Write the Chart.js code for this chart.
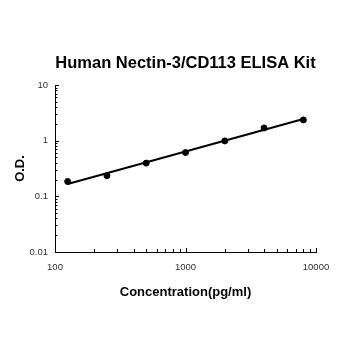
<!DOCTYPE html>
<html>
<head>
<meta charset="utf-8">
<script src="https://cdn.jsdelivr.net/npm/chart.js@4/dist/chart.umd.min.js"></script>
<style>
  html, body { margin: 0; padding: 0; background: #fff; }
  #wrap { width: 350px; height: 350px; }
</style>
</head>
<body>
<div id="wrap"><canvas id="c"></canvas></div>
<script>
// standard curve: concentration (pg/ml) vs O.D., log-log
const concentration = [125, 250, 500, 1000, 2000, 4000, 8000];
const od = [0.185, 0.234, 0.395, 0.612, 0.99, 1.69, 2.36];

// fitted line endpoints
const fitX = [125, 8000];
const fitY = [0.166, 2.45];

const xMajor = [100, 1000, 10000];
const yMajor = [0.01, 0.1, 1, 10];

const TITLE = 'Human Nectin-3/CD113 ELISA Kit';
const FONT = '"Liberation Sans", Arial, sans-serif';

// 1..9 x 10^n between the first and last major tick
function logTicks(majors) {
  const out = [];
  for (let i = 0; i < majors.length - 1; i++) {
    for (let k = 1; k < 10; k++) out.push(+(majors[i] * k).toPrecision(6));
  }
  out.push(majors[majors.length - 1]);
  return out;
}

const isMajor = (v, majors) => majors.some(m => Math.abs(m - v) < m * 1e-6);

// inward tick marks + title centred over the plot area
const decorations = {
  id: 'decorations',
  afterDraw(chart) {
    const { ctx, chartArea: a, scales: { x, y } } = chart;
    ctx.save();
    ctx.strokeStyle = '#000';
    ctx.lineWidth = 1;
    ctx.beginPath();
    logTicks(xMajor).forEach(v => {
      const px = Math.round(x.getPixelForValue(v)) + 0.5;
      const len = isMajor(v, xMajor) ? 4 : 3;
      ctx.moveTo(px, a.bottom);
      ctx.lineTo(px, a.bottom - len);
    });
    logTicks(yMajor).forEach(v => {
      const py = Math.round(y.getPixelForValue(v)) + 0.5;
      const len = isMajor(v, yMajor) ? 4 : 2.5;
      ctx.moveTo(a.left, py);
      ctx.lineTo(a.left + len, py);
    });
    ctx.stroke();

    ctx.fillStyle = '#000';
    ctx.font = 'bold 16.5px ' + FONT;
    ctx.textAlign = 'center';
    ctx.textBaseline = 'middle';
    ctx.fillText(TITLE, (a.left + a.right) / 2, 63);
    ctx.restore();
  }
};

new Chart(document.getElementById('c'), {
  type: 'scatter',
  data: {
    datasets: [
      {
        label: 'fit',
        data: fitX.map((v, i) => ({ x: v, y: fitY[i] })),
        showLine: true,
        borderColor: '#000',
        borderWidth: 2,
        pointRadius: 0,
        fill: false,
      },
      {
        label: 'O.D.',
        data: concentration.map((v, i) => ({ x: v, y: od[i] })),
        backgroundColor: '#000',
        borderColor: '#000',
        pointRadius: 3,
        pointHoverRadius: 3,
      }
    ]
  },
  options: {
    responsive: true, maintainAspectRatio: false,
    animation: false,
    layout: { padding: { left: 0, right: 34, top: 85, bottom: 46 } },
    plugins: {
      legend: { display: false },
      tooltip: { enabled: false },
      title: { display: false },
    },
    scales: {
      x: {
        type: 'logarithmic',
        min: 100, max: 10000,
        afterBuildTicks: s => { s.ticks = xMajor.map(v => ({ value: v })); },
        afterFit: s => { s.height = 52; },
        grid: { display: false, drawTicks: false },
        border: { display: true, color: '#000', width: 1 },
        ticks: {
          autoSkip: false, maxRotation: 0,
          padding: 10,
          color: '#333',
          font: { family: FONT, size: 9.5 },
          callback: v => String(v),
        },
        title: {
          display: true,
          text: 'Concentration(pg/ml)',
          color: '#000',
          font: { family: FONT, size: 13, weight: 'bold' },
          padding: { top: 4, bottom: 4 },
        }
      },
      y: {
        type: 'logarithmic',
        min: 0.01, max: 10,
        afterBuildTicks: s => { s.ticks = yMajor.map(v => ({ value: v })); },
        afterFit: s => { s.width = 55; },
        grid: { display: false, drawTicks: false },
        border: { display: true, color: '#000', width: 1 },
        ticks: {
          autoSkip: false,
          padding: 7,
          color: '#333',
          font: { family: FONT, size: 9.5 },
          callback: v => String(v),
        },
        title: {
          display: true,
          text: 'O.D.',
          color: '#000',
          font: { family: FONT, size: 13, weight: 'bold' },
          padding: { top: 13, bottom: 0 },
        }
      }
    }
  },
  plugins: [decorations]
});
</script>
</body>
</html>
